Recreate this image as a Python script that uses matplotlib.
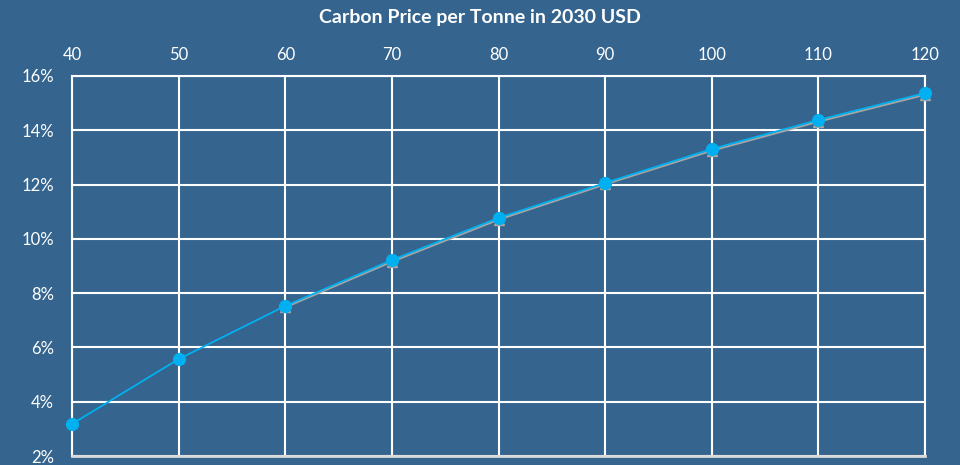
import matplotlib.pyplot as plt

# carbon price (USD per tonne, 2030)
price = [40, 50, 60, 70, 80, 90, 100, 110, 120]

# series (percent)
blue_vals = [3.18, 5.57, 7.53, 9.22, 10.77, 12.06, 13.31, 14.38, 15.37]
grey_price = [60, 70, 80, 90, 100, 110, 120]
grey_vals = [7.48, 9.16, 10.71, 12.01, 13.25, 14.32, 15.31]

bg = '#35658F'
plt.rcParams['font.family'] = ['Lato', 'DejaVu Sans']

fig = plt.figure(figsize=(9.6, 4.65), dpi=100, facecolor=bg)
ax = fig.add_axes([72 / 960, 9 / 465, 853 / 960, 380 / 465])
ax.set_facecolor(bg)

ax.plot(grey_price, grey_vals, color='#A5A5A5', lw=1.5, marker='^', ms=7,
        zorder=3, clip_on=False)
ax.plot(price, blue_vals, color='#00B0F0', lw=1.3, marker='o', ms=8.5,
        zorder=4, clip_on=False)

ax.set_xlim(40, 120)
ax.set_ylim(2, 16)
ax.set_xticks(price)
ax.set_yticks(range(2, 17, 2))
ax.set_yticklabels([f'{v}%' for v in range(2, 17, 2)])
ax.xaxis.tick_top()
ax.tick_params(colors='white', labelsize=12, length=0, pad=9)
ax.tick_params(axis='y', pad=13)
ax.grid(True, color='white', lw=1.5)
for s in ax.spines.values():
    s.set_color('white')
    s.set_linewidth(1.5)
ax.spines['bottom'].set_color('#D9D9D9')
ax.spines['bottom'].set_linewidth(2)

fig.text(0.5, 1 - 18 / 465, 'Carbon Price per Tonne in 2030 USD', color='white',
         fontsize=14, fontweight='bold', ha='center', va='center')

fig.savefig('out.png', dpi=100, facecolor=bg)
